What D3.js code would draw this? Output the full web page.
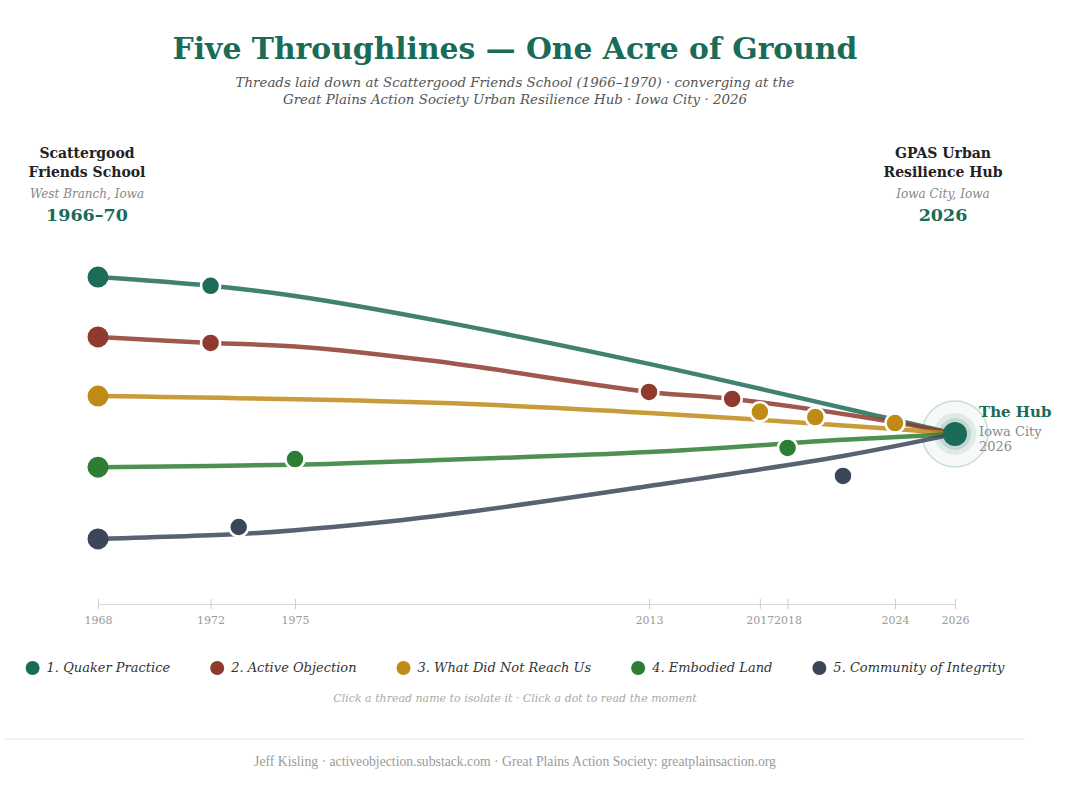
<!DOCTYPE html>
<html>
<head>
<meta charset="utf-8">
<script src="https://cdn.jsdelivr.net/npm/d3@7"></script>
<style>
  body { margin: 0; background: #fff; }
  text { font-family: "DejaVu Serif", Georgia, serif; }
</style>
</head>
<body>
<svg id="chart" width="1083" height="810"></svg>
<script>
// Thread names and colours
var threadNames = ["1. Quaker Practice", "2. Active Objection", "3. What Did Not Reach Us", "4. Embodied Land", "5. Community of Integrity"];
var threadColors = ["#1e6b59", "#8e3b2d", "#c08a16", "#2e7d34", "#3b4659"];

// Course of each thread: [year, lane value]
var quakerPath = [[1968, 93.4], [1972, 90.9], [1975, 88.0], [1990, 81.1], [2013, 68.6], [2024, 52.6], [2026, 48.6]];
var objectionPath = [[1968, 76.3], [1972, 74.6], [1975, 73.6], [1990, 69.4], [2013, 60.6], [2016, 58.6], [2024, 51.9], [2026, 48.6]];
var notReachPath = [[1968, 59.4], [1990, 57.5], [2013, 54.6], [2024, 50.0], [2026, 48.6]];
var landPath = [[1968, 39.1], [1975, 39.8], [1990, 41.1], [2013, 43.4], [2020, 46.9], [2026, 48.6]];
var integrityPath = [[1968, 18.6], [1973, 20.0], [1975, 21.1], [1990, 25.1], [2013, 33.7], [2020, 42.3], [2026, 48.6]];

// Moments (dots) on each thread: [year, lane value]
var quakerMoments = [[1968, 93.4], [1972, 90.9]];
var objectionMoments = [[1968, 76.3], [1972, 74.6], [2013, 60.6], [2016, 58.6]];
var notReachMoments = [[1968, 59.4], [2017, 54.9], [2019, 53.4], [2024, 51.7]];
var landMoments = [[1968, 39.1], [1975, 41.4], [2018, 44.6]];
var integrityMoments = [[1968, 18.6], [1973, 22.0], [2020, 36.6]];

var threadPaths = [quakerPath, objectionPath, notReachPath, landPath, integrityPath];
var threadMoments = [quakerMoments, objectionMoments, notReachMoments, landMoments, integrityMoments];

// Where everything meets
var hubPoint = [2026, 48.6];

// Axis tick years
var tickYears = [1968, 1972, 1975, 2013, 2017, 2018, 2024, 2026];

var svg = d3.select("#chart");
var teal = "#1a6b57";

// Timeline is stretched around the busy years
var x = d3.scaleLinear()
  .domain([1968, 1975, 2013, 2020, 2024, 2026])
  .range([98, 295, 649, 843, 895, 955]);

var y = d3.scaleLinear().domain([0, 100]).range([604, 254]);

// Title + subtitle
svg.append("text").attr("x", 515).attr("y", 59).attr("text-anchor", "middle")
  .style("font-size", "29.8px").style("font-weight", "bold").attr("fill", teal)
  .text("Five Throughlines — One Acre of Ground");

var subLines = ["Threads laid down at Scattergood Friends School (1966–1970) · converging at the",
  "Great Plains Action Society Urban Resilience Hub · Iowa City · 2026"];
subLines.forEach(function (s, i) {
  svg.append("text").attr("x", 515).attr("y", 87 + i * 17).attr("text-anchor", "middle")
    .style("font-size", "13.4px").style("font-style", "italic").attr("fill", "#555").text(s);
});

// End headers
function header(cx, lines, place, year) {
  var g = svg.append("g").attr("text-anchor", "middle");
  lines.forEach(function (l, i) {
    g.append("text").attr("x", cx).attr("y", 158 + i * 19)
      .style("font-size", "14px").style("font-weight", "bold").attr("fill", "#222").text(l);
  });
  g.append("text").attr("x", cx).attr("y", 198)
    .style("font-size", "12px").style("font-style", "italic").attr("fill", "#888").text(place);
  g.append("text").attr("x", cx).attr("y", 221)
    .style("font-size", "17.5px").style("font-weight", "bold").attr("fill", teal).text(year);
}
header(87, ["Scattergood", "Friends School"], "West Branch, Iowa", "1966–70");
header(943, ["GPAS Urban", "Resilience Hub"], "Iowa City, Iowa", "2026");

// Axis
var axis = svg.append("g").attr("transform", "translate(0,604)")
  .call(d3.axisBottom(x).tickValues(tickYears).tickFormat(d3.format("d"))
    .tickSize(5).tickSizeOuter(0).tickPadding(7));
axis.select(".domain").attr("stroke", "#d6d6d6");
axis.selectAll(".tick line").attr("stroke", "#cfcfcf").attr("y1", -5);
axis.selectAll(".tick text").attr("fill", "#9a9a9a")
  .style("font-family", "'DejaVu Serif', Georgia, serif").style("font-size", "11px");

// Hub glow
var hx = x(hubPoint[0]), hy = y(hubPoint[1]);
svg.append("circle").attr("cx", hx).attr("cy", hy).attr("r", 33)
  .attr("fill", teal).attr("fill-opacity", 0.04)
  .attr("stroke", teal).attr("stroke-opacity", 0.22).attr("stroke-width", 1.5);
svg.append("circle").attr("cx", hx).attr("cy", hy).attr("r", 21)
  .attr("fill", teal).attr("fill-opacity", 0.1);
svg.append("circle").attr("cx", hx).attr("cy", hy).attr("r", 16)
  .attr("fill", teal).attr("fill-opacity", 0.14);

// Threads
var line = d3.line()
  .x(function (d) { return x(d[0]); })
  .y(function (d) { return y(d[1]); })
  .curve(d3.curveCatmullRom.alpha(0.5));

threadPaths.forEach(function (p, i) {
  svg.append("path").datum(p).attr("d", line)
    .attr("fill", "none").attr("stroke", threadColors[i])
    .attr("stroke-opacity", 0.85).attr("stroke-width", 4.5)
    .attr("stroke-linecap", "round");
});

// Moments
threadMoments.forEach(function (m, i) {
  svg.append("g").selectAll("circle").data(m).join("circle")
    .attr("cx", function (d) { return x(d[0]); })
    .attr("cy", function (d) { return y(d[1]); })
    .attr("r", function (d, j) { return j === 0 ? 10.5 : 9.5; })
    .attr("fill", threadColors[i])
    .attr("stroke", "#fff")
    .attr("stroke-width", function (d, j) { return j === 0 ? 0 : 2.5; });
});

// Hub dot + label
svg.append("circle").attr("cx", hx).attr("cy", hy).attr("r", 12).attr("fill", teal);
svg.append("text").attr("x", hx + 24).attr("y", hy - 17)
  .style("font-size", "15px").style("font-weight", "bold").attr("fill", teal).text("The Hub");
svg.append("text").attr("x", hx + 24).attr("y", hy + 2)
  .style("font-size", "13px").attr("fill", "#888").text("Iowa City");
svg.append("text").attr("x", hx + 24).attr("y", hy + 17)
  .style("font-size", "13px").attr("fill", "#888").text("2026");

// Legend, laid out left to right then centred
var legend = svg.append("g");
var lx = 0;
threadNames.forEach(function (n, i) {
  var item = legend.append("g").attr("transform", "translate(" + lx + ",0)");
  item.append("circle").attr("cx", 7).attr("cy", 668).attr("r", 7).attr("fill", threadColors[i]);
  var t = item.append("text").attr("x", 21).attr("y", 672)
    .style("font-size", "13px").style("font-style", "italic").attr("fill", "#333").text(n);
  lx += 21 + t.node().getComputedTextLength() + 40;
});
lx -= 40;
legend.attr("transform", "translate(" + (515 - lx / 2) + ",0)");

svg.append("text").attr("x", 515).attr("y", 702).attr("text-anchor", "middle")
  .style("font-size", "11px").style("font-style", "italic").attr("fill", "#aaa")
  .text("Click a thread name to isolate it · Click a dot to read the moment");

// Footer
svg.append("line").attr("x1", 5).attr("x2", 1025).attr("y1", 739).attr("y2", 739)
  .attr("stroke", "#e8e8e8");
svg.append("text").attr("x", 515).attr("y", 766).attr("text-anchor", "middle")
  .style("font-family", "'Liberation Serif', serif").style("font-size", "13.7px").attr("fill", "#9a9a9a")
  .text("Jeff Kisling · activeobjection.substack.com · Great Plains Action Society: greatplainsaction.org");
</script>
</body>
</html>
